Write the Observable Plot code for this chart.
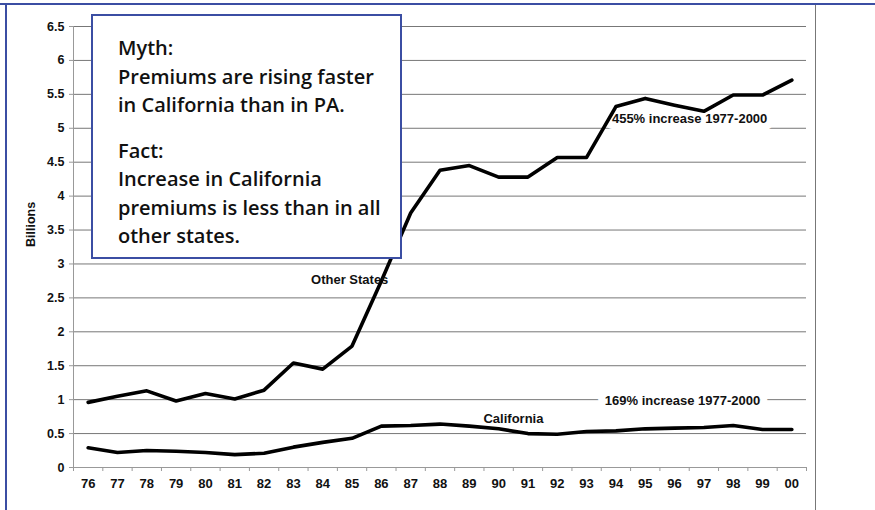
<!DOCTYPE html>
<html><head><meta charset="utf-8">
<script src="https://cdn.jsdelivr.net/npm/d3@7"></script>
<script src="https://cdn.jsdelivr.net/npm/@observablehq/plot@0.6"></script>
<style>
body{margin:0;background:#fff;}
#wrap{position:relative;width:875px;height:510px;overflow:hidden;background:#fff;}
#chart{position:absolute;left:0;top:0;}
.deco{position:absolute;}
#topline{left:0;top:3px;width:875px;height:2px;background:#3b4ea3;}
#leftline{left:5px;top:3px;width:2px;height:507px;background:#3b4ea3;}
#rightline{left:815px;top:5px;width:1px;height:505px;background:#777;}
#box{position:absolute;left:91px;top:14px;width:311px;height:245px;box-sizing:border-box;border:2.5px solid #3b4ea3;background:#fff;
  font-family:"Open Sans",sans-serif;font-weight:600;font-size:20px;color:#111;padding:18px 0 0 25px;line-height:28.5px;}
#box p{margin:0;white-space:nowrap;}
#box p.gap{margin-top:17px;}
</style>
</head><body>
<div id="wrap">
  <div id="chart"></div>
  <div class="deco" id="topline"></div>
  <div class="deco" id="leftline"></div>
  <div class="deco" id="rightline"></div>
  <div id="box">
    <p>Myth:</p>
    <p>Premiums are rising faster</p>
    <p>in California than in PA.</p>
    <p class="gap">Fact:</p>
    <p>Increase in California</p>
    <p>premiums is less than in all</p>
    <p>other states.</p>
  </div>
</div>
<script>
const years = ["76","77","78","79","80","81","82","83","84","85","86","87","88","89","90","91","92","93","94","95","96","97","98","99","00"];
const otherStates = [0.96,1.05,1.13,0.98,1.09,1.01,1.14,1.54,1.45,1.79,2.75,3.75,4.38,4.45,4.28,4.28,4.57,4.57,5.32,5.44,5.34,5.25,5.49,5.49,5.71];
const california = [0.29,0.22,0.25,0.24,0.22,0.19,0.21,0.30,0.37,0.43,0.61,0.62,0.64,0.61,0.57,0.50,0.49,0.53,0.54,0.57,0.58,0.59,0.62,0.56,0.56];
const yTicks = [0,0.5,1,1.5,2,2.5,3,3.5,4,4.5,5,5.5,6,6.5];
const seriesNames = ["Other States","California"];
const otherNote = "455% increase 1977-2000";
const caNote = "169% increase 1977-2000";

const idx = years.map((d,i)=>i);
const bounds = years.map((d,i)=>i-0.5).concat([years.length-0.5]);
const rows = years.map((y,i)=>({i, other: otherStates[i], ca: california[i]}));

const lab = {fontFamily:"Liberation Sans, Arial, sans-serif", fontWeight:"bold", fontSize:13, fill:"#111"};
const notes = [
  {i:18, v:otherStates[18], text:otherNote, anchor:"start", dx:-4, dy:12.5},
  {i:20, v:1, text:caNote, anchor:"middle", dx:8, dy:1.5}
];

const chart = Plot.plot({
  width: 875, height: 510,
  marginLeft: 73, marginRight: 69, marginTop: 26, marginBottom: 43,
  x: {type:"linear", domain:[-0.5, years.length-0.5]},
  y: {domain:[0,6.5]},
  style: {fontFamily:"Liberation Sans, Arial, sans-serif", background:"transparent", color:"#111"},
  marks: [
    Plot.gridY(yTicks.slice(1), {stroke:"#777", strokeOpacity:1}),
    Plot.ruleY([0], {stroke:"#999"}),
    Plot.ruleX([-0.5], {stroke:"#999"}),
    Plot.axisY(yTicks, {tickSize:4, tickPadding:5, fontWeight:"bold", fontSize:12.5, stroke:"#999", fill:"#111", label:null, tickFormat:d=>String(d)}),
    Plot.axisX(idx, {tickSize:0, tickPadding:11, fontWeight:"bold", fontSize:13, fill:"#111", tickFormat:i=>years[i], label:null}),
    Plot.axisX(bounds, {tickSize:4, stroke:"#999", tickFormat:()=>"", label:null}),
    Plot.text(["Billions"], {frameAnchor:"left", rotate:-90, dx:-43, ...lab, fontSize:12.5}),
    ...notes.map(n => Plot.text([n], {x:"i", y:"v", text:"text", textAnchor:n.anchor, dx:n.dx, dy:n.dy, ...lab, fill:"white", stroke:"white", strokeWidth:15})),
    Plot.line(rows, {x:"i", y:"other", stroke:"black", strokeWidth:3.6, strokeLinejoin:"round"}),
    Plot.line(rows, {x:"i", y:"ca", stroke:"black", strokeWidth:3.6, strokeLinejoin:"round"}),
    ...notes.map(n => Plot.text([n], {x:"i", y:"v", text:"text", textAnchor:n.anchor, dx:n.dx, dy:n.dy, ...lab})),
    Plot.text([{i:10, v:otherStates[10], t:seriesNames[0]}], {x:"i", y:"v", text:"t", textAnchor:"end", dx:7, dy:-1, ...lab}),
    Plot.text([{i:15, v:california[15], t:seriesNames[1]}], {x:"i", y:"v", text:"t", textAnchor:"middle", dx:-14.5, dy:-15, ...lab})
  ]
});
document.getElementById("chart").appendChild(chart);
</script>
</body></html>
